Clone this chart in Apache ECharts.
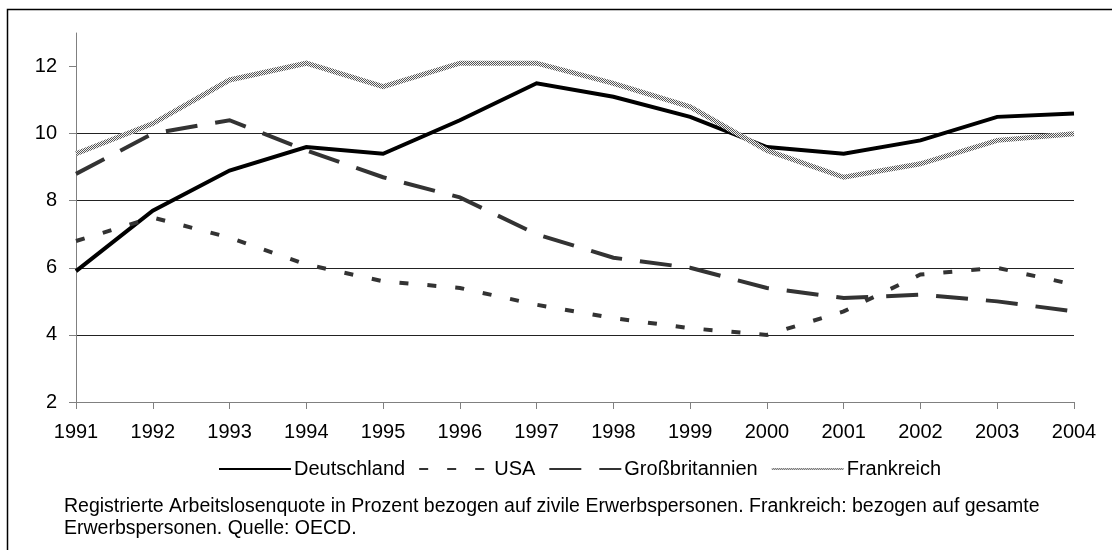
<!DOCTYPE html>
<html lang="de">
<head>
  <meta charset="utf-8">
</head>
<body style="margin: 0; background: #fff">
  <div id="container" style="width: 1112px; height: 550px"></div>
  <script src="https://cdn.jsdelivr.net/npm/echarts@6/dist/echarts.min.js"></script>
  <script>
    const years = ['1991', '1992', '1993', '1994', '1995', '1996', '1997', '1998', '1999', '2000', '2001', '2002', '2003', '2004'];
    const deutschland = [5.9, 7.7, 8.9, 9.6, 9.4, 10.4, 11.5, 11.1, 10.5, 9.6, 9.4, 9.8, 10.5, 10.6];
    const usa = [6.8, 7.5, 6.9, 6.1, 5.6, 5.4, 4.9, 4.5, 4.2, 4.0, 4.7, 5.8, 6.0, 5.5];
    const grossbritannien = [8.8, 10.0, 10.4, 9.5, 8.7, 8.1, 7.0, 6.3, 6.0, 5.4, 5.1, 5.2, 5.0, 4.7];
    const frankreich = [9.4, 10.3, 11.6, 12.1, 11.4, 12.1, 12.1, 11.5, 10.8, 9.5, 8.7, 9.1, 9.8, 10.0];
    const yTicks = [2, 4, 6, 8, 10, 12];
    const noteLines = [
      'Registrierte Arbeitslosenquote in Prozent bezogen auf zivile Erwerbspersonen. Frankreich: bezogen auf gesamte',
      'Erwerbspersonen. Quelle: OECD.'
    ];

    // kleines Punktmuster fuer die Frankreich-Linie
    const tile = document.createElement('canvas');
    tile.width = 2;
    tile.height = 2;
    const tctx = tile.getContext('2d');
    tctx.fillStyle = '#f2f2f2';
    tctx.fillRect(0, 0, 2, 2);
    tctx.fillStyle = '#555';
    tctx.fillRect(0, 0, 1, 1);
    tctx.fillRect(1, 1, 1, 1);
    const dotPattern = { image: tile, repeat: 'repeat' };

    const font = '"Liberation Sans", Arial, sans-serif';
    const chart = echarts.init(document.getElementById('container'), null, { renderer: 'canvas' });

    function lineSeries(name, data, color, width, type) {
      return {
        name: name,
        type: 'line',
        data: data,
        symbol: 'none',
        animation: false,
        lineStyle: { color: color, width: width, type: type, cap: 'butt', join: 'miter' },
        itemStyle: { color: color }
      };
    }

    const option = {
      animation: false,
      textStyle: { fontFamily: font },
      grid: { left: 76, right: 38, top: 33, bottom: 148 },
      xAxis: {
        type: 'category',
        data: years,
        boundaryGap: false,
        axisLine: { lineStyle: { color: '#808080', width: 1 } },
        axisTick: { length: 7, lineStyle: { color: '#808080' } },
        axisLabel: { color: '#000', fontSize: 20, margin: 20, fontFamily: font }
      },
      yAxis: {
        type: 'value',
        min: 2,
        max: 13,
        interval: 2,
        axisLine: { show: true, lineStyle: { color: '#808080', width: 1 } },
        axisTick: { show: true, length: 7, lineStyle: { color: '#808080' }, customValues: yTicks },
        axisLabel: { color: '#000', fontSize: 20, margin: 19, fontFamily: font, customValues: yTicks },
        splitLine: { show: true, showMinLine: false, showMaxLine: false, lineStyle: { color: '#222', width: 1 } }
      },
      legend: {
        left: 213,
        top: 454,
        itemWidth: 72,
        itemHeight: 16,
        itemGap: 13,
        itemStyle: { color: 'transparent', borderWidth: 0, opacity: 0 },
        textStyle: { fontSize: 20, color: '#000', fontFamily: font, padding: [0, 0, 0, -2] },
        data: ['Deutschland', 'USA', 'Großbritannien', 'Frankreich']
      },
      title: {
        text: noteLines.join('\n'),
        left: 64,
        top: 496,
        padding: 0,
        textStyle: { fontSize: 19.5, fontWeight: 'normal', color: '#000', lineHeight: 22, fontFamily: font }
      },
      graphic: [
        {
          type: 'rect',
          silent: true,
          shape: { x: 7.5, y: 9.5, width: 1300, height: 700 },
          style: { fill: 'none', stroke: '#000', lineWidth: 1.5 }
        }
      ],
      series: [
        lineSeries('Deutschland', deutschland, '#000', 4, 'solid'),
        lineSeries('USA', usa, '#333', 4, [9, 19]),
        lineSeries('Großbritannien', grossbritannien, '#333', 4, [32, 18]),
        lineSeries('Frankreich', frankreich, dotPattern, 5, 'solid')
      ]
    };
    chart.setOption(option);
  </script>
</body>
</html>
